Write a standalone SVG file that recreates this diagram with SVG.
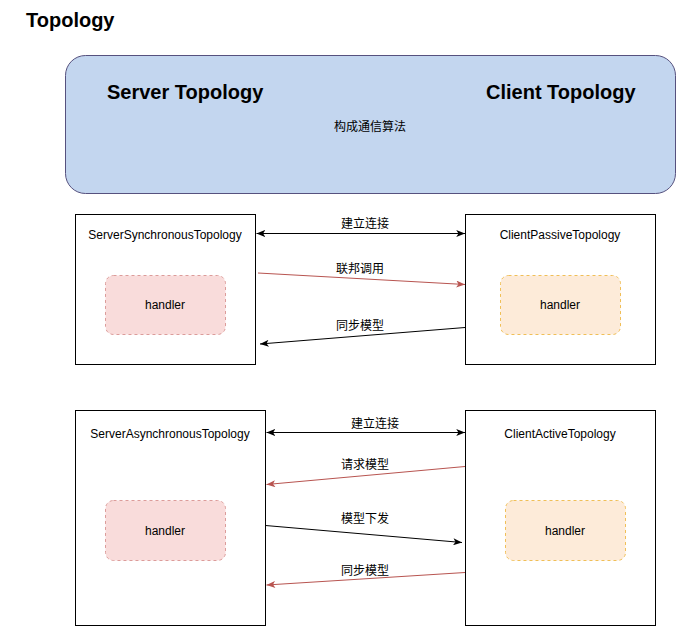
<svg xmlns="http://www.w3.org/2000/svg" width="681" height="631" viewBox="0 0 681 631">
<style>
text{font-family:"Liberation Sans","Noto Sans CJK SC",sans-serif;fill:#000}
.t12{font-size:12px}
.big{font-size:20px;font-weight:bold}
.box{fill:#fff;stroke:#000;stroke-width:1}
.hs{fill:#f9dcdb;stroke:#dc9c9a;stroke-dasharray:3 3;stroke-width:1}
.hc{fill:#fdebd9;stroke:#f0bf57;stroke-dasharray:3 3;stroke-width:1}
.ab{stroke:#000;stroke-width:1;fill:none}
.ar{stroke:#b85450;stroke-width:1;fill:none}
</style>
<defs>
<marker id="mb" viewBox="0 0 10 8" refX="10" refY="4" markerWidth="9" markerHeight="7" markerUnits="userSpaceOnUse" orient="auto-start-reverse"><path d="M0,0 L10,4 L0,8 L2.5,4 Z" fill="#000"/></marker>
<marker id="mr" viewBox="0 0 10 8" refX="10" refY="4" markerWidth="9" markerHeight="7" markerUnits="userSpaceOnUse" orient="auto-start-reverse"><path d="M0,0 L10,4 L0,8 L2.5,4 Z" fill="#b85450"/></marker>
</defs>
<rect width="681" height="631" fill="#fff"/>
<text x="26" y="27" class="big">Topology</text>
<g id="topology">
<rect x="65.5" y="55.5" width="610" height="138" rx="20" ry="20" fill="#c3d6ef" stroke="#56517e"/>
<text x="107" y="99" class="big">Server Topology</text>
<text x="486" y="99" class="big">Client Topology</text>
<text x="370" y="131" class="t12" text-anchor="middle">构成通信算法</text>
</g>
<g id="server-sync">
<rect x="75.5" y="214.5" width="180" height="150" class="box"/>
<text x="165" y="239" class="t12" text-anchor="middle">ServerSynchronousTopology</text>
</g>
<g id="server-sync-handler">
<rect x="105.5" y="275.5" width="120" height="59" rx="8" class="hs"/>
<text x="165" y="309" class="t12" text-anchor="middle">handler</text>
</g>
<g id="client-passive">
<rect x="465.5" y="214.5" width="190" height="150" class="box"/>
<text x="560" y="239" class="t12" text-anchor="middle">ClientPassiveTopology</text>
</g>
<g id="client-passive-handler">
<rect x="500.5" y="275.5" width="120" height="59" rx="8" class="hc"/>
<text x="560" y="309" class="t12" text-anchor="middle">handler</text>
</g>
<g id="server-async">
<rect x="75.5" y="410.5" width="190" height="215" class="box"/>
<text x="170" y="438" class="t12" text-anchor="middle">ServerAsynchronousTopology</text>
</g>
<g id="server-async-handler">
<rect x="105.5" y="500.5" width="120" height="60" rx="8" class="hs"/>
<text x="165" y="535" class="t12" text-anchor="middle">handler</text>
</g>
<g id="client-active">
<rect x="465.5" y="410.5" width="190" height="215" class="box"/>
<text x="560" y="438" class="t12" text-anchor="middle">ClientActiveTopology</text>
</g>
<g id="client-active-handler">
<rect x="505.5" y="500.5" width="120" height="60" rx="8" class="hc"/>
<text x="565" y="535" class="t12" text-anchor="middle">handler</text>
</g>
<g id="connectors">
<line x1="256.5" y1="233.5" x2="465" y2="233.5" class="ab" marker-start="url(#mb)" marker-end="url(#mb)"/>
<text x="365" y="228" class="t12" text-anchor="middle">建立连接</text>
<line x1="258" y1="273" x2="465" y2="284.5" class="ar" marker-end="url(#mr)"/>
<text x="360" y="273" class="t12" text-anchor="middle">联邦调用</text>
<line x1="465" y1="327.5" x2="260" y2="344" class="ab" marker-end="url(#mb)"/>
<text x="360" y="330" class="t12" text-anchor="middle">同步模型</text>
<line x1="266.5" y1="432.5" x2="465" y2="432.5" class="ab" marker-start="url(#mb)" marker-end="url(#mb)"/>
<text x="375" y="428" class="t12" text-anchor="middle">建立连接</text>
<line x1="465" y1="466.5" x2="266.5" y2="484.5" class="ar" marker-end="url(#mr)"/>
<text x="365" y="469" class="t12" text-anchor="middle">请求模型</text>
<line x1="265.5" y1="525.5" x2="462" y2="542.5" class="ab" marker-end="url(#mb)"/>
<text x="365" y="523" class="t12" text-anchor="middle">模型下发</text>
<line x1="465" y1="572.5" x2="266.5" y2="585" class="ar" marker-end="url(#mr)"/>
<text x="365" y="575" class="t12" text-anchor="middle">同步模型</text>
</g>
</svg>
